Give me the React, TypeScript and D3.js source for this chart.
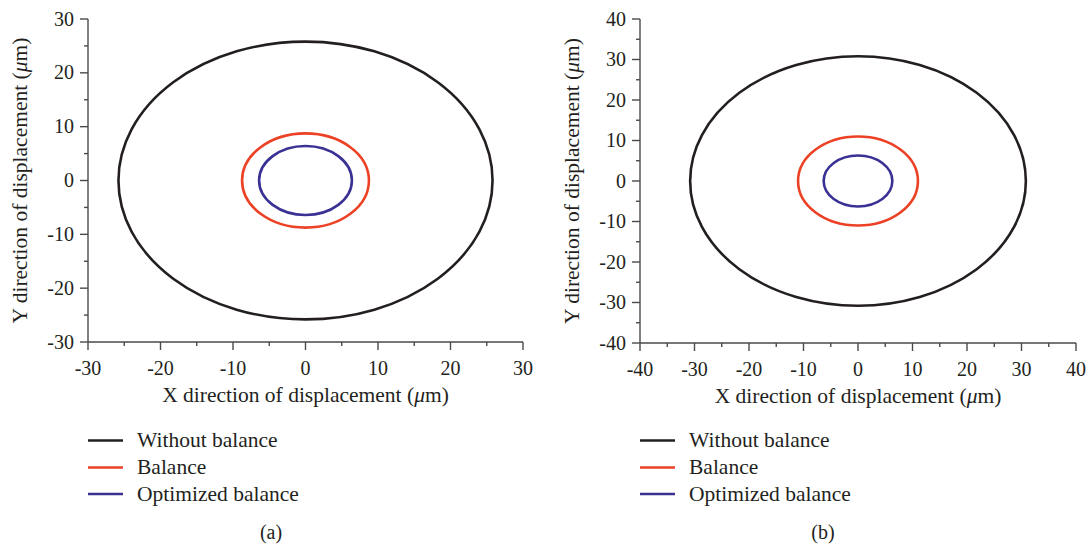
import React from "react";
import * as d3 from "d3";

// Orbit radii (µm) for each balancing case, per panel
const seriesNames = ["Without balance", "Balance", "Optimized balance"];
const seriesColors = ["#231f20", "#ec4125", "#3a3194"];
const radiiA = [25.8, 8.75, 6.4];
const radiiB = [30.8, 11.0, 6.3];

// Axis tick values per panel
const ticksA = [-30, -20, -10, 0, 10, 20, 30];
const ticksB = [-40, -30, -20, -10, 0, 10, 20, 30, 40];
const minorA = [-25, -15, -5, 5, 15, 25];
const minorB = [-35, -25, -15, -5, 5, 15, 25, 35];

const FONT = "'Liberation Serif', 'Times New Roman', serif";
const AXIS_COLOR = "#4a4a4a";

type PanelProps = {
  left: number;
  right: number;
  top: number;
  bottom: number;
  limit: number;
  ticks: number[];
  minor: number[];
  radii: number[];
  tag: string;
  tagX: number;
};

function Panel({ left, right, top, bottom, limit, ticks, minor, radii, tag, tagX }: PanelProps) {
  const x = d3.scaleLinear().domain([-limit, limit]).range([left, right]);
  const y = d3.scaleLinear().domain([-limit, limit]).range([bottom, top]);
  const cx = x(0);
  const cy = y(0);
  const legendY = [440.5, 467.5, 494];
  return (
    <g>
      {/* orbit ellipses */}
      {radii.map((r, i) => (
        <ellipse
          key={seriesNames[i]}
          cx={cx}
          cy={cy}
          rx={x(r) - cx}
          ry={cy - y(r)}
          fill="none"
          stroke={seriesColors[i]}
          strokeWidth={2.6}
        />
      ))}
      {/* y axis */}
      <line x1={left} x2={left} y1={top} y2={bottom} stroke={AXIS_COLOR} strokeWidth={1.4} />
      {ticks.map((t) => (
        <g key={"y" + t}>
          <line x1={left - 8} x2={left} y1={y(t)} y2={y(t)} stroke={AXIS_COLOR} strokeWidth={1.4} />
          <text
            x={left - 14}
            y={y(t)}
            dy="0.33em"
            textAnchor="end"
            fontFamily={FONT}
            fontSize={20}
            fill="#231f20"
          >
            {String(t)}
          </text>
        </g>
      ))}
      {minor.map((t) => (
        <line key={"ym" + t} x1={left - 4} x2={left} y1={y(t)} y2={y(t)} stroke={AXIS_COLOR} strokeWidth={1.4} />
      ))}
      {/* x axis */}
      <line x1={left} x2={right} y1={bottom} y2={bottom} stroke={AXIS_COLOR} strokeWidth={1.4} />
      {ticks.map((t) => (
        <g key={"x" + t}>
          <line x1={x(t)} x2={x(t)} y1={bottom} y2={bottom + 8} stroke={AXIS_COLOR} strokeWidth={1.4} />
          <text
            x={x(t)}
            y={bottom + 33}
            textAnchor="middle"
            fontFamily={FONT}
            fontSize={20}
            fill="#231f20"
          >
            {String(t)}
          </text>
        </g>
      ))}
      {minor.map((t) => (
        <line key={"xm" + t} x1={x(t)} x2={x(t)} y1={bottom} y2={bottom + 4} stroke={AXIS_COLOR} strokeWidth={1.4} />
      ))}
      {/* axis titles */}
      <text
        x={(left + right) / 2}
        y={bottom + 60}
        textAnchor="middle"
        fontFamily={FONT}
        fontSize={21.5}
        fill="#231f20"
      >
        X direction of displacement (<tspan fontStyle="italic">μ</tspan>m)
      </text>
      <text
        transform={`translate(${left - 61},${(top + bottom) / 2}) rotate(-90)`}
        textAnchor="middle"
        fontFamily={FONT}
        fontSize={21.5}
        fill="#231f20"
      >
        Y direction of displacement (<tspan fontStyle="italic">μ</tspan>m)
      </text>
      {/* legend */}
      {seriesNames.map((name, i) => (
        <g key={"lg" + name}>
          <line
            x1={left}
            x2={left + 35}
            y1={legendY[i]}
            y2={legendY[i]}
            stroke={seriesColors[i]}
            strokeWidth={2.6}
          />
          <text x={left + 49} y={legendY[i]} dy="0.32em" fontFamily={FONT} fontSize={21.5} fill="#231f20">
            {name}
          </text>
        </g>
      ))}
      <text x={tagX} y={539} textAnchor="middle" fontFamily={FONT} fontSize={20} fill="#231f20">
        {tag}
      </text>
    </g>
  );
}

export default function App() {
  return (
    <svg
      width={1092}
      height={547}
      style={{ position: "absolute", left: 0, top: 0, background: "#fff" }}
    >
      <rect width={1092} height={547} fill="#fff" />
      <Panel left={88} right={523} top={19} bottom={342} limit={30} ticks={ticksA} minor={minorA} radii={radiiA} tag="(a)" tagX={271} />
      <Panel left={640} right={1076} top={19} bottom={343} limit={40} ticks={ticksB} minor={minorB} radii={radiiB} tag="(b)" tagX={823} />
    </svg>
  );
}
